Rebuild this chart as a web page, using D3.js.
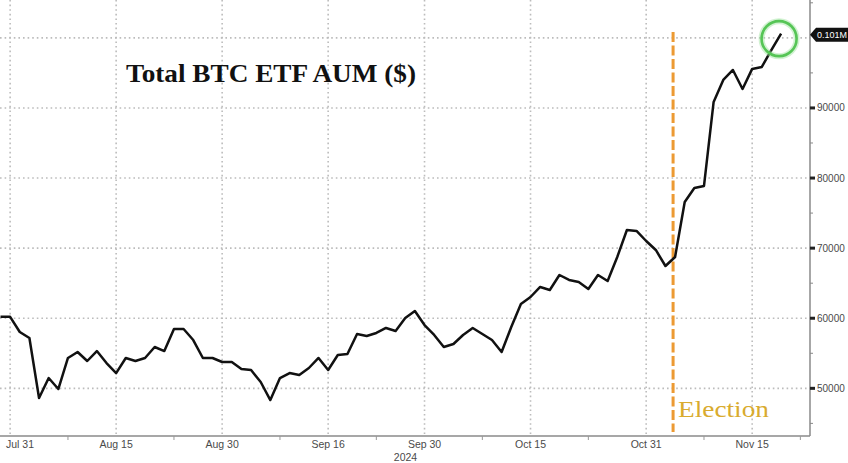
<!DOCTYPE html>
<html>
<head>
<meta charset="utf-8">
<script src="https://cdn.jsdelivr.net/npm/d3@7"></script>
<style>
  html, body { margin: 0; padding: 0; background: #fff; }
  svg { display: block; }
</style>
</head>
<body>
<svg id="chart" width="848" height="463"></svg>
<script>
// ---------- DATA ----------
const startDate = "2024-07-30";   // first business day of the series
const endAxisDate = "2024-11-25"; // last business day shown on the axis
// Total BTC ETF AUM ($M), one value per business day from Jul 30 2024
const aumValues = [
  60200, 60200, 58040, 57180, 48620, 51470, 49900, 54330, 55180, 53900,
  55320, 53610, 52180, 54330, 53900, 54330, 55900, 55320, 58460, 58460,
  56890, 54330, 54330, 53760, 53760, 52760, 52610, 50900, 48330, 51470,
  52180, 51900, 52900, 54330, 52610, 54750, 54900, 57750, 57470, 57900,
  58610, 58180, 60030, 61030, 59030, 57610, 55900, 56330, 57610, 58610,
  57750, 56890, 55180, 58750, 62030, 63030, 64460, 64030, 66170, 65460,
  65170, 64170, 66170, 65310, 68740, 72590, 72450, 71020, 69740, 67450,
  68740, 76590, 78580, 78870, 90860, 94000, 95420, 92710, 95570, 95850,
  98280, 100600
];
const majorTickDates = ["2024-07-31","2024-08-15","2024-08-30","2024-09-16","2024-09-30","2024-10-15","2024-10-31","2024-11-15"];
const majorTickLabels = ["Jul 31","Aug 15","Aug 30","Sep 16","Sep 30","Oct 15","Oct 31","Nov 15"];
const minorTickDates = ["2024-08-08","2024-08-23","2024-09-09","2024-09-23","2024-10-08","2024-10-23","2024-11-08","2024-11-22"];
const yTickValues = [50000, 60000, 70000, 80000, 90000];
const yGridValues = [50000, 60000, 70000, 80000, 90000, 100000];
const yMinorValues = [45000, 55000, 65000, 75000, 85000, 95000, 105000];
const yearLabel = "2024";
const electionDate = "2024-11-05";
const lastLabel = "0.101M";
const titleText = "Total BTC ETF AUM ($)";
const electionText = "Election";

// ---------- SETUP ----------
const parse = d3.utcParse("%Y-%m-%d");
const fmt = d3.utcFormat("%Y-%m-%d");
const allDays = d3.utcDay.range(parse(startDate), d3.utcDay.offset(parse(endAxisDate), 1))
  .filter(d => d.getUTCDay() !== 0 && d.getUTCDay() !== 6);
const idxOf = s => allDays.findIndex(d => fmt(d) === s);

const plotLeft = 0.5, plotRight = 810, plotTop = 0, plotBottom = 436;
const x = d3.scaleLinear().domain([0, allDays.length - 1]).range([plotLeft, plotRight]);
const y = d3.scaleLinear().domain([43200, 105400]).range([plotBottom, plotTop]);

const svg = d3.select("#chart");

// gridlines
const gridColor = "#bcbcbc";
svg.append("g").selectAll("line").data(yGridValues).join("line")
  .attr("x1", 0).attr("x2", plotRight)
  .attr("y1", d => y(d)).attr("y2", d => y(d))
  .attr("stroke", gridColor).attr("stroke-width", 1.6).attr("stroke-dasharray", "1.6,3");
svg.append("g").selectAll("line").data(majorTickDates).join("line")
  .attr("x1", d => x(idxOf(d))).attr("x2", d => x(idxOf(d)))
  .attr("y1", 0).attr("y2", plotBottom)
  .attr("stroke", gridColor).attr("stroke-width", 1.6).attr("stroke-dasharray", "1.6,3");

// x axis
svg.append("line").attr("x1", 0).attr("x2", plotRight)
  .attr("y1", plotBottom).attr("y2", plotBottom)
  .attr("stroke", "#8a8a8a").attr("stroke-width", 1.5);
svg.append("g").selectAll("line").data(minorTickDates).join("line")
  .attr("x1", d => x(idxOf(d))).attr("x2", d => x(idxOf(d)))
  .attr("y1", plotBottom).attr("y2", plotBottom + 4)
  .attr("stroke", "#999").attr("stroke-width", 1);
svg.append("g").selectAll("text").data(majorTickDates).join("text")
  .attr("x", (d, i) => i === 0 ? 6 : x(idxOf(d)))
  .attr("y", 448)
  .attr("text-anchor", (d, i) => i === 0 ? "start" : "middle")
  .attr("font-family", "Liberation Sans, Arial, sans-serif")
  .attr("font-size", "10.5px").attr("fill", "#4a4a4a")
  .text((d, i) => majorTickLabels[i]);
svg.append("text").attr("x", x(idxOf("2024-09-30")) - 19).attr("y", 461)
  .attr("text-anchor", "middle")
  .attr("font-family", "Liberation Sans, Arial, sans-serif")
  .attr("font-size", "10.5px").attr("fill", "#4a4a4a").text(yearLabel);

// right y axis
svg.append("line").attr("x1", plotRight).attr("x2", plotRight)
  .attr("y1", 0).attr("y2", plotBottom)
  .attr("stroke", "#8a8a8a").attr("stroke-width", 1.5);
svg.append("g").selectAll("line").data(yMinorValues).join("line")
  .attr("x1", plotRight).attr("x2", plotRight + 3)
  .attr("y1", d => y(d)).attr("y2", d => y(d))
  .attr("stroke", "#888").attr("stroke-width", 1);
svg.append("g").selectAll("rect").data(yTickValues).join("rect")
  .attr("x", plotRight).attr("y", d => y(d) - 1.5)
  .attr("width", 5).attr("height", 3).attr("fill", "#222");
svg.append("g").selectAll("text").data(yTickValues).join("text")
  .attr("x", 817).attr("y", d => y(d) + 3.5)
  .attr("font-family", "Liberation Sans, Arial, sans-serif")
  .attr("font-size", "10px").attr("fill", "#4a4a4a")
  .text(d => d3.format("d")(d));

// election dashed line
const ex = x(idxOf(electionDate)) - 2;
svg.append("line").attr("x1", ex).attr("x2", ex)
  .attr("y1", 32).attr("y2", 432)
  .attr("stroke", "#ec9a33").attr("stroke-width", 3)
  .attr("stroke-dasharray", "10,3.5");

// data line
const line = d3.line().x((d, i) => x(i)).y(d => y(d));
svg.append("path").datum(aumValues)
  .attr("d", line).attr("fill", "none")
  .attr("stroke", "#111").attr("stroke-width", 2.5)
  .attr("stroke-linejoin", "round");

// green circle around last point
const lastI = aumValues.length - 1;
const cx = x(lastI) - 2, cy = y(aumValues[lastI]) + 5;
svg.append("circle").attr("cx", cx).attr("cy", cy).attr("r", 17.5)
  .attr("fill", "none").attr("stroke", "#9be39b").attr("stroke-width", 6).attr("opacity", 0.45);
svg.append("circle").attr("cx", cx).attr("cy", cy).attr("r", 17.5)
  .attr("fill", "none").attr("stroke", "#56c556").attr("stroke-width", 2.6);

// last value label
const ly = y(aumValues[lastI]) + 1;
svg.append("path")
  .attr("d", `M${plotRight},${ly} L${plotRight + 6},${ly - 7} L848,${ly - 7} L848,${ly + 7} L${plotRight + 6},${ly + 7} Z`)
  .attr("fill", "#111");
svg.append("text").attr("x", 817).attr("y", ly + 3.3)
  .attr("font-family", "Liberation Sans, Arial, sans-serif")
  .attr("font-size", "9px").attr("fill", "#fff").text(lastLabel);

// title
svg.append("text").attr("x", 126).attr("y", 82)
  .attr("font-family", "Liberation Serif, Times New Roman, serif")
  .attr("font-weight", "bold").attr("font-size", "26px").attr("fill", "#111")
  .attr("textLength", 290).attr("lengthAdjust", "spacingAndGlyphs")
  .text(titleText);

// election text
svg.append("text").attr("x", 678).attr("y", 417)
  .attr("font-family", "Liberation Serif, Times New Roman, serif")
  .attr("font-size", "24px").attr("fill", "#d9ab2e")
  .attr("textLength", 91).attr("lengthAdjust", "spacingAndGlyphs")
  .text(electionText);
</script>
</body>
</html>
